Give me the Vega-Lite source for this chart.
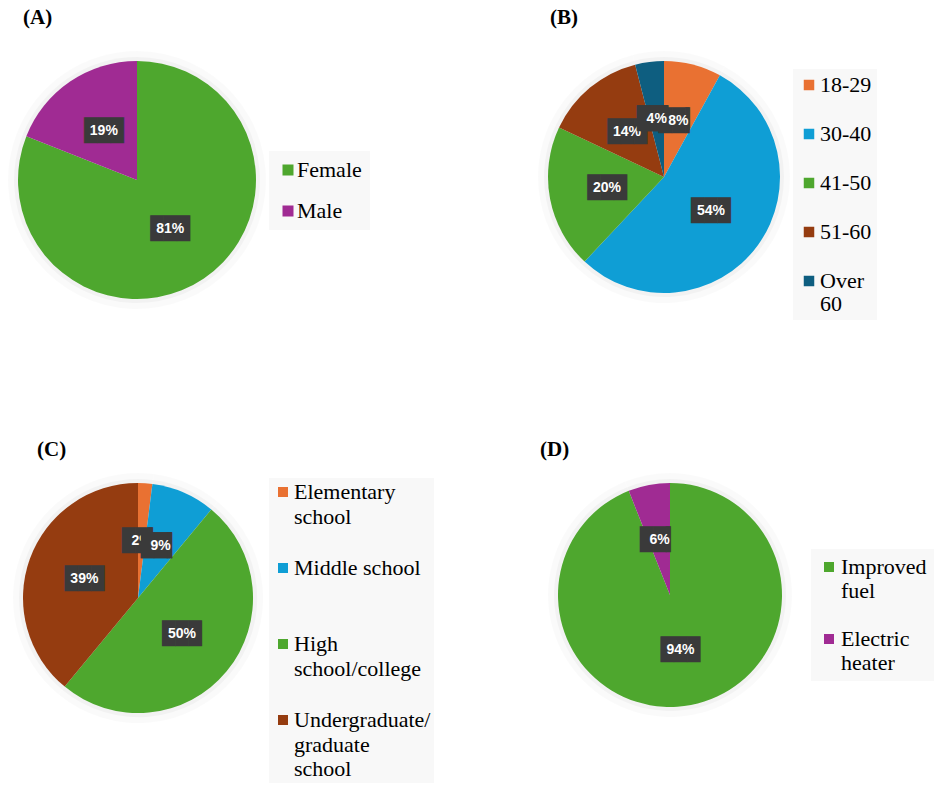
{
  "$schema": "https://vega.github.io/schema/vega-lite/v6.json",
  "background": "white",
  "padding": {"left": 0, "top": 7, "right": 0, "bottom": 0},
  "config": {
    "view": {"stroke": "transparent"},
    "title": {"font": "Liberation Serif", "fontSize": 21, "fontWeight": "bold", "color": "black", "anchor": "start", "frame": "group", "offset": 12},
    "legend": {
      "orient": "none", "title": null, "symbolType": "square", "symbolStrokeWidth": 0,
      "labelFont": "Liberation Serif", "labelFontSize": 22, "labelColor": "black", "labelLimit": 300,
      "labelBaseline": "top", "fillColor": "#f8f8f8"
    }
  },
  "columns": 2,
  "bounds": "flush",
  "spacing": {"row": 152, "column": 224},
  "resolve": {"scale": {"color": "independent", "theta": "independent"}, "legend": {"color": "independent"}},
  "concat": [
    {
      "width": 274, "height": 280,
      "title": {"text": "(A)", "dx": 23},
      "data": {"values": [
        {"group": "Female", "pct": 0.81, "n": 1},
        {"group": "Male", "pct": 0.19, "n": 2}
      ]},
      "encoding": {
        "theta": {"field": "pct", "type": "quantitative", "stack": true},
        "order": {"field": "n", "type": "quantitative"}
      },
      "layer": [
        {"mark": {"type": "arc", "outerRadius": 129, "color": "#000", "opacity": 0.02}},
        {"mark": {"type": "arc", "outerRadius": 123, "color": "#000", "opacity": 0.03}},
        {
          "mark": {"type": "arc", "outerRadius": 119},
          "encoding": {
            "color": {"field": "group", "type": "nominal",
              "scale": {"domain": ["Female", "Male"], "range": ["#4ea72e", "#a02b93"]},
              "legend": {"legendX": 269, "legendY": 111, "symbolSize": 121, "labelOffset": -2, "rowPadding": 19, "padding": 8,
                "labelFont": "Liberation Serif",
                "encode": {"labels": {"update": {"dy": {"value": -10}}}}}}
          }
        },
        {
          "mark": {"type": "text", "radius": 59, "font": "DejaVu Sans Mono", "fontSize": 22, "color": "#3a3a3a"},
          "encoding": {"text": {"condition": {"test": "datum.pct < 0.1", "value": "██▍"}, "value": "███"}}
        },
        {
          "mark": {"type": "text", "radius": 59, "font": "Liberation Sans", "fontWeight": "bold", "fontSize": 14, "color": "white"},
          "encoding": {"text": {"field": "pct", "type": "quantitative", "format": ".0%"}}
        }
      ]
    },
    {
      "width": 328, "height": 274,
      "title": {"text": "(B)", "dx": 50},
      "data": {"values": [
        {"group": "18-29", "pct": 0.08, "n": 1},
        {"group": "30-40", "pct": 0.54, "n": 2},
        {"group": "41-50", "pct": 0.20, "n": 3},
        {"group": "51-60", "pct": 0.14, "n": 4},
        {"group": "Over 60", "pct": 0.04, "n": 5}
      ]},
      "encoding": {
        "theta": {"field": "pct", "type": "quantitative", "stack": true},
        "order": {"field": "n", "type": "quantitative"}
      },
      "layer": [
        {"mark": {"type": "arc", "outerRadius": 126, "color": "#000", "opacity": 0.02}},
        {"mark": {"type": "arc", "outerRadius": 120, "color": "#000", "opacity": 0.03}},
        {
          "mark": {"type": "arc", "outerRadius": 116},
          "encoding": {
            "color": {"field": "group", "type": "nominal",
              "scale": {"domain": ["18-29", "30-40", "41-50", "51-60", "Over 60"], "range": ["#e97132", "#0f9ed5", "#4ea72e", "#953c10", "#0e5e80"]},
              "legend": {"legendX": 293, "legendY": 29, "symbolSize": 110, "labelOffset": 0, "rowPadding": 27, "padding": 5,
                "labelFont": "Liberation Serif",
                "labelExpr": "datum.label == 'Over 60' ? ['Over', '60'] : datum.label",
                "encode": {"labels": {"update": {"dy": {"value": -10}, "lineHeight": {"value": 23}}}}}}
          }
        },
        {
          "mark": {"type": "text", "radius": 58, "font": "DejaVu Sans Mono", "fontSize": 22, "color": "#3a3a3a"},
          "encoding": {"text": {"condition": {"test": "datum.pct < 0.1", "value": "██▍"}, "value": "███"}}
        },
        {
          "mark": {"type": "text", "radius": 58, "font": "Liberation Sans", "fontWeight": "bold", "fontSize": 14, "color": "white"},
          "encoding": {"text": {"field": "pct", "type": "quantitative", "format": ".0%"}}
        },
        {
          "mark": {"type": "text", "radius": 58, "font": "DejaVu Sans Mono", "fontSize": 22, "color": "#3a3a3a"},
          "encoding": {
            "text": {"value": "██▍"},
            "opacity": {"condition": {"test": "datum.n == 5", "value": 1}, "value": 0}
          }
        },
        {
          "mark": {"type": "text", "radius": 58, "font": "Liberation Sans", "fontWeight": "bold", "fontSize": 14, "color": "white"},
          "encoding": {
            "text": {"field": "pct", "type": "quantitative", "format": ".0%"},
            "opacity": {"condition": {"test": "datum.n == 5", "value": 1}, "value": 0}
          }
        }
      ]
    },
    {
      "width": 276, "height": 252,
      "title": {"text": "(C)", "dx": 37},
      "data": {"values": [
        {"group": "Elementary school", "pct": 0.02, "n": 1},
        {"group": "Middle school", "pct": 0.09, "n": 2},
        {"group": "High school/college", "pct": 0.50, "n": 3},
        {"group": "Undergraduate/graduate school", "pct": 0.39, "n": 4}
      ]},
      "encoding": {
        "theta": {"field": "pct", "type": "quantitative", "stack": true},
        "order": {"field": "n", "type": "quantitative"}
      },
      "layer": [
        {"mark": {"type": "arc", "outerRadius": 125, "color": "#000", "opacity": 0.02}},
        {"mark": {"type": "arc", "outerRadius": 119, "color": "#000", "opacity": 0.03}},
        {
          "mark": {"type": "arc", "outerRadius": 115},
          "encoding": {
            "color": {"field": "group", "type": "nominal",
              "scale": {"domain": ["Elementary school", "Middle school", "High school/college", "Undergraduate/graduate school"], "range": ["#e97132", "#0f9ed5", "#4ea72e", "#953c10"]},
              "legend": {"legendX": 269, "legendY": 6, "symbolSize": 100, "labelOffset": 0, "rowPadding": 29, "padding": 3,
                "labelFont": "Liberation Serif",
                "labelExpr": "datum.label == 'Elementary school' ? ['Elementary', 'school'] : datum.label == 'Middle school' ? ['Middle school', ''] : datum.label == 'High school/college' ? ['High', 'school/college'] : ['Undergraduate/', 'graduate', 'school']",
                "encode": {"labels": {"update": {"dy": {"value": -10}, "lineHeight": {"value": 24.5}}}}}}
          }
        },
        {
          "mark": {"type": "text", "radius": 57, "font": "DejaVu Sans Mono", "fontSize": 22, "color": "#3a3a3a"},
          "encoding": {"text": {"condition": {"test": "datum.pct < 0.1", "value": "██▍"}, "value": "███"}}
        },
        {
          "mark": {"type": "text", "radius": 57, "font": "Liberation Sans", "fontWeight": "bold", "fontSize": 14, "color": "white"},
          "encoding": {"text": {"field": "pct", "type": "quantitative", "format": ".0%"}}
        },
        {
          "mark": {"type": "text", "radius": 57, "font": "DejaVu Sans Mono", "fontSize": 22, "color": "#3a3a3a"},
          "encoding": {
            "text": {"value": "██▍"},
            "opacity": {"condition": {"test": "datum.n == 2", "value": 1}, "value": 0}
          }
        },
        {
          "mark": {"type": "text", "radius": 57, "font": "Liberation Sans", "fontWeight": "bold", "fontSize": 14, "color": "white"},
          "encoding": {
            "text": {"field": "pct", "type": "quantitative", "format": ".0%"},
            "opacity": {"condition": {"test": "datum.n == 2", "value": 1}, "value": 0}
          }
        }
      ]
    },
    {
      "width": 340, "height": 246,
      "title": {"text": "(D)", "dx": 40},
      "data": {"values": [
        {"group": "Improved fuel", "pct": 0.94, "n": 1},
        {"group": "Electric heater", "pct": 0.06, "n": 2}
      ]},
      "encoding": {
        "theta": {"field": "pct", "type": "quantitative", "stack": true},
        "order": {"field": "n", "type": "quantitative"}
      },
      "layer": [
        {"mark": {"type": "arc", "outerRadius": 122, "color": "#000", "opacity": 0.02}},
        {"mark": {"type": "arc", "outerRadius": 116, "color": "#000", "opacity": 0.03}},
        {
          "mark": {"type": "arc", "outerRadius": 112},
          "encoding": {
            "color": {"field": "group", "type": "nominal",
              "scale": {"domain": ["Improved fuel", "Electric heater"], "range": ["#4ea72e", "#a02b93"]},
              "legend": {"legendX": 311, "legendY": 77, "symbolSize": 100, "labelOffset": 1, "rowPadding": 26, "padding": 7,
                "labelFont": "Liberation Serif",
                "labelExpr": "datum.label == 'Improved fuel' ? ['Improved', 'fuel'] : ['Electric', 'heater']",
                "encode": {"labels": {"update": {"dy": {"value": -10}, "lineHeight": {"value": 23.5}}}}}}
          }
        },
        {
          "mark": {"type": "text", "radius": 56, "font": "DejaVu Sans Mono", "fontSize": 22, "color": "#3a3a3a"},
          "encoding": {"text": {"condition": {"test": "datum.pct < 0.1", "value": "██▍"}, "value": "███"}}
        },
        {
          "mark": {"type": "text", "radius": 56, "font": "Liberation Sans", "fontWeight": "bold", "fontSize": 14, "color": "white"},
          "encoding": {"text": {"field": "pct", "type": "quantitative", "format": ".0%"}}
        }
      ]
    }
  ]
}
